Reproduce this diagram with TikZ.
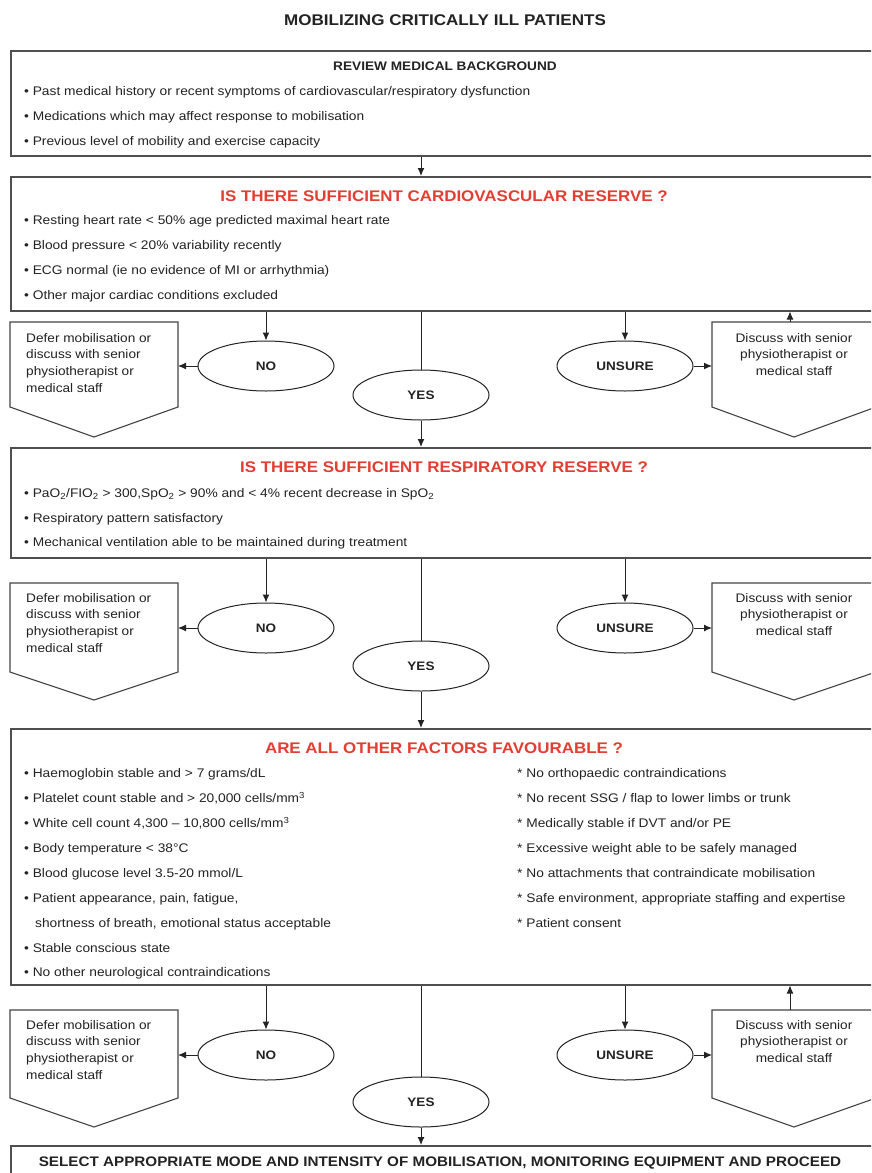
\documentclass[tikz,border=0pt]{standalone}
\usepackage{fontspec}
\setmainfont{Liberation Sans}[FakeStretch=1.1]
\usetikzlibrary{shapes.geometric,arrows.meta}
\definecolor{headred}{RGB}{226,62,50}
\definecolor{ink}{RGB}{35,35,35}
\begin{document}
\begin{tikzpicture}[x=1pt,y=-1pt,
  frame/.style={draw=ink!80, line width=1.5pt, minimum width=870pt, anchor=north west, inner sep=0pt},
  titl/.style={font=\bfseries\fontsize{15.5}{18}\selectfont, text=ink, inner sep=0pt},
  subhead/.style={font=\bfseries\fontsize{12.4}{15}\selectfont, text=ink, inner sep=0pt},
  head/.style={font=\bfseries\fontsize{15.4}{18}\selectfont, text=headred, inner sep=0pt},
  bul/.style={anchor=base west, font=\fontsize{12.5}{15}\selectfont, text=ink, inner sep=0pt},
  dec/.style={ellipse, draw=ink, line width=1pt, minimum width=136pt, minimum height=50pt, inner sep=0pt, font=\bfseries\fontsize{12.3}{15}\selectfont, text=ink},
  sidebox/.style={draw=ink!85, line width=1.1pt},
  sidetxt/.style={font=\fontsize{12.4}{16.7}\selectfont, text=ink, inner sep=0pt},
  arr/.style={-{Latex[length=8pt,width=7pt]}, line width=1pt, draw=ink},
  ln/.style={line width=1pt, draw=ink},
  lastline/.style={font=\bfseries\fontsize{13.85}{16}\selectfont, text=ink, inner sep=0pt}
]
\useasboundingbox (0,0) rectangle (871,1173);
\clip (0,0) rectangle (871,1173);
\fill[white] (0,0) rectangle (871,1173);

% title
\node[titl] (title) at (445,20) {MOBILIZING CRITICALLY ILL PATIENTS};

% ---------- box 1
\node[frame, minimum height=105pt] (box1) at (10,50) {};
\node[subhead] (h1) at (445,66) {REVIEW MEDICAL BACKGROUND};
\node[bul] (b11) at (24,95.5) {• Past medical history or recent symptoms of cardiovascular/respiratory dysfunction};
\node[bul] (b12) at (24,120.5) {• Medications which may affect response to mobilisation};
\node[bul] (b13) at (24,145.5) {• Previous level of mobility and exercise capacity};

% ---------- box 2
\node[frame, minimum height=134pt] (box2) at (10,176) {};
\draw[arr] (box1.south -| 421,0) -- (box2.north -| 421,0);
\node[head] (h2) at (444,196) {IS THERE SUFFICIENT CARDIOVASCULAR RESERVE ?};
\node[bul] (b21) at (24,224.5) {• Resting heart rate < 50\% age predicted maximal heart rate};
\node[bul] (b22) at (24,249.5) {• Blood pressure < 20\% variability recently};
\node[bul] (b23) at (24,274.5) {• ECG normal (ie no evidence of MI or arrhythmia)};
\node[bul] (b24) at (24,299.5) {• Other major cardiac conditions excluded};

% ---------- row 1
\node[dec] (no1) at (266,366) {NO};
\node[dec] (yes1) at (421,395) {YES};
\node[dec] (un1) at (625,366) {UNSURE};
\draw[sidebox] (10,322) -- (178,322) -- (178,407) -- (94,437) -- (10,407) -- cycle;
\draw[sidebox] (712,322) -- (876,322) -- (876,407) -- (794,437) -- (712,407) -- cycle;
\coordinate (L1) at (178,366);
\coordinate (R1) at (712,366);
\coordinate (RT1) at (790,322);
\node[sidetxt, anchor=north west, align=left] (lt1) at (26,333) {Defer mobilisation or\\discuss with senior\\physiotherapist or\\medical staff};
\node[sidetxt, anchor=north, align=center] (rt1) at (794,333) {Discuss with senior\\physiotherapist or\\medical staff};
\draw[arr] (no1.north |- box2.south) -- (no1.north);
\draw[ln] (yes1.north |- box2.south) -- (yes1.north);
\draw[arr] (un1.north |- box2.south) -- (un1.north);
\draw[arr] (no1.west) -- (L1);
\draw[arr] (un1.east) -- (R1);
\draw[arr] (RT1) -- (RT1 |- box2.south);

% ---------- box 3
\node[frame, minimum height=110pt] (box3) at (10,447) {};
\draw[arr] (yes1.south) -- (yes1.south |- box3.north);
\node[head] (h3) at (444,467) {IS THERE SUFFICIENT RESPIRATORY RESERVE ?};
\node[bul] (b31) at (24,497.5) {• PaO\textsubscript{2}/FIO\textsubscript{2} > 300,SpO\textsubscript{2} > 90\% and < 4\% recent decrease in SpO\textsubscript{2}};
\node[bul] (b32) at (24,522.5) {• Respiratory pattern satisfactory};
\node[bul] (b33) at (24,546.5) {• Mechanical ventilation able to be maintained during treatment};

% ---------- row 2
\node[dec] (no2) at (266,628) {NO};
\node[dec] (yes2) at (421,666) {YES};
\node[dec] (un2) at (625,628) {UNSURE};
\draw[sidebox] (10,583) -- (178,583) -- (178,672) -- (94,700) -- (10,672) -- cycle;
\draw[sidebox] (712,583) -- (876,583) -- (876,672) -- (794,700) -- (712,672) -- cycle;
\coordinate (L2) at (178,628);
\coordinate (R2) at (712,628);
\node[sidetxt, anchor=north west, align=left] (lt2) at (26,593) {Defer mobilisation or\\discuss with senior\\physiotherapist or\\medical staff};
\node[sidetxt, anchor=north, align=center] (rt2) at (794,593) {Discuss with senior\\physiotherapist or\\medical staff};
\draw[arr] (no2.north |- box3.south) -- (no2.north);
\draw[ln] (yes2.north |- box3.south) -- (yes2.north);
\draw[arr] (un2.north |- box3.south) -- (un2.north);
\draw[arr] (no2.west) -- (L2);
\draw[arr] (un2.east) -- (R2);

% ---------- box 4
\node[frame, minimum height=256pt] (box4) at (10,728) {};
\draw[arr] (yes2.south) -- (yes2.south |- box4.north);
\node[head] (h4) at (444,748) {ARE ALL OTHER FACTORS FAVOURABLE ?};
\node[bul] (b41) at (24,777.5) {• Haemoglobin stable and > 7 grams/dL};
\node[bul] (b42) at (24,802.5) {• Platelet count stable and > 20,000 cells/mm\textsuperscript{3}};
\node[bul] (b43) at (24,827.5) {• White cell count 4,300 – 10,800 cells/mm\textsuperscript{3}};
\node[bul] (b44) at (24,852.5) {• Body temperature < 38°C};
\node[bul] (b45) at (24,877.5) {• Blood glucose level 3.5-20 mmol/L};
\node[bul] (b46) at (24,902.5) {• Patient appearance, pain, fatigue,};
\node[bul] (b47) at (35,927.5) {shortness of breath, emotional status acceptable};
\node[bul] (b48) at (24,952.5) {• Stable conscious state};
\node[bul] (b49) at (24,976.5) {• No other neurological contraindications};
\node[bul] (c41) at (517,777.5) {* No orthopaedic contraindications};
\node[bul] (c42) at (517,802.5) {* No recent SSG / flap to lower limbs or trunk};
\node[bul] (c43) at (517,827.5) {* Medically stable if DVT and/or PE};
\node[bul] (c44) at (517,852.5) {* Excessive weight able to be safely managed};
\node[bul] (c45) at (517,877.5) {* No attachments that contraindicate mobilisation};
\node[bul] (c46) at (517,902.5) {* Safe environment, appropriate staffing and expertise};
\node[bul] (c47) at (517,927.5) {* Patient consent};

% ---------- row 3
\node[dec] (no3) at (266,1055) {NO};
\node[dec] (yes3) at (421,1102) {YES};
\node[dec] (un3) at (625,1055) {UNSURE};
\draw[sidebox] (10,1010) -- (178,1010) -- (178,1098) -- (94,1127) -- (10,1098) -- cycle;
\draw[sidebox] (712,1010) -- (876,1010) -- (876,1098) -- (794,1127) -- (712,1098) -- cycle;
\coordinate (L3) at (178,1055);
\coordinate (R3) at (712,1055);
\coordinate (RT3) at (790,1010);
\node[sidetxt, anchor=north west, align=left] (lt3) at (26,1020) {Defer mobilisation or\\discuss with senior\\physiotherapist or\\medical staff};
\node[sidetxt, anchor=north, align=center] (rt3) at (794,1020) {Discuss with senior\\physiotherapist or\\medical staff};
\draw[arr] (no3.north |- box4.south) -- (no3.north);
\draw[ln] (yes3.north |- box4.south) -- (yes3.north);
\draw[arr] (un3.north |- box4.south) -- (un3.north);
\draw[arr] (no3.west) -- (L3);
\draw[arr] (un3.east) -- (R3);
\draw[arr] (RT3) -- (RT3 |- box4.south);

% ---------- box 5
\node[frame, minimum height=60pt] (box5) at (10,1145) {};
\draw[arr] (yes3.south) -- (yes3.south |- box5.north);
\node[lastline] (h5) at (440,1163) {SELECT APPROPRIATE MODE AND INTENSITY OF MOBILISATION, MONITORING EQUIPMENT AND PROCEED};
\end{tikzpicture}
\end{document}
